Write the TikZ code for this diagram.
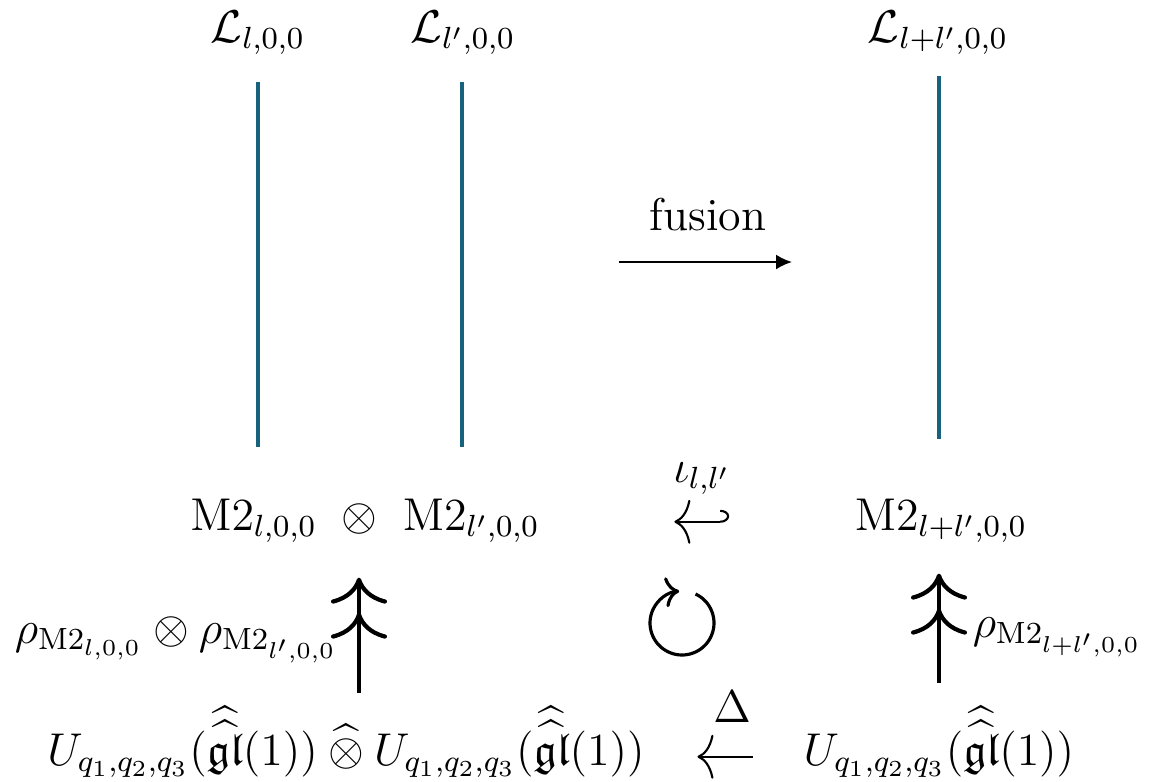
\documentclass[tikz,border=0pt]{standalone}
\usepackage{amsmath,amssymb}
\usetikzlibrary{arrows.meta}
\definecolor{linecol}{RGB}{24,98,126}
\tikzset{
  lbl/.style={font=\large, scale=1.09, inner sep=0pt, anchor=base},
  wline/.style={linecol, line width=1pt},
  fusarrow/.style={line width=0.6pt, -{Latex[length=1.6mm,width=1.5mm]}},
  incl/.style={line width=0.6pt, {Hooks[left,length=0.9mm,width=2.4mm]}-{To[length=1.6mm,width=4.4mm]}},
  coprod/.style={line width=0.6pt, -{To[length=1.6mm,width=4.4mm]}},
  surj/.style={line width=1.2pt, -{To[length=2.6mm,width=5.6mm,sep=0.9mm]To[length=2.6mm,width=5.6mm]}},
}
\begin{document}
\begin{tikzpicture}
  \useasboundingbox (0,0) rectangle (11.49,7.81);
  % linee
  \node[lbl] (L1) at (2.58,7.39) {$\mathcal{L}_{l,0,0}$};
  \node[lbl] (L2) at (4.63,7.39) {$\mathcal{L}_{l',0,0}$};
  \node[lbl] (L3) at (9.38,7.39) {$\mathcal{L}_{l+l',0,0}$};
  \draw[wline] (2.58,6.99) -- (2.58,3.34);
  \draw[wline] (4.62,6.99) -- (4.62,3.34);
  \draw[wline] (9.39,7.05) -- (9.39,3.42);
  % fusione
  \node[lbl] (fus) at (7.08,5.51) {fusion};
  \draw[fusarrow] (6.19,5.19) -- (7.92,5.19);
  % moduli
  \node[lbl] (M2tens) at (3.65,2.51) {$\mathrm{M2}_{l,0,0}\ \otimes\ \mathrm{M2}_{l',0,0}$};
  \node[lbl] (M2sum) at (9.41,2.51) {$\mathrm{M2}_{l+l',0,0}$};
  \node[lbl] (iota) at (7.02,2.99) {$\iota_{l,l'}$};
  \draw[incl, shorten <=1.25cm, shorten >=1.34cm] (M2sum.mid west) -- (M2tens.mid east);
  % algebre
  \node[lbl] (Uleft) at (3.46,0.16) {$U_{q_1,q_2,q_3}(\widehat{\widehat{\mathfrak{gl}}}(1))\mathbin{\widehat{\otimes}}U_{q_1,q_2,q_3}(\widehat{\widehat{\mathfrak{gl}}}(1))$};
  \node[lbl] (Uright) at (9.39,0.16) {$U_{q_1,q_2,q_3}(\widehat{\widehat{\mathfrak{gl}}}(1))$};
  \node[lbl] (Delta) at (7.32,0.59) {$\Delta$};
  \draw[coprod, shorten <=0.5cm, shorten >=0.52cm] (Uright.mid west) -- (Uleft.mid east);
  % rappresentazioni
  \coordinate (colA) at (3.59,0);
  \coordinate (colB) at (9.39,0);
  \draw[surj, shorten <=0.13cm, shorten >=0.34cm] (Uleft.north -| colA) -- (M2tens.south -| colA);
  \draw[surj, shorten <=0.23cm, shorten >=0.3cm] (Uright.north -| colB) -- (M2sum.south -| colB);
  \node[lbl, anchor=base east] (rho1) at (3.38,1.38) {$\rho_{\mathrm{M2}_{l,0,0}}\otimes\rho_{\mathrm{M2}_{l',0,0}}$};
  \node[lbl, anchor=base west] (rho2) at (9.72,1.44) {$\rho_{\mathrm{M2}_{l+l',0,0}}$};
  % commuta
  \draw[line width=0.9pt, -{To[length=1.4mm,width=3mm]}] (6.82,1.58) ++(65:0.32) arc[start angle=65, end angle=-265, radius=0.32];
\end{tikzpicture}
\end{document}
